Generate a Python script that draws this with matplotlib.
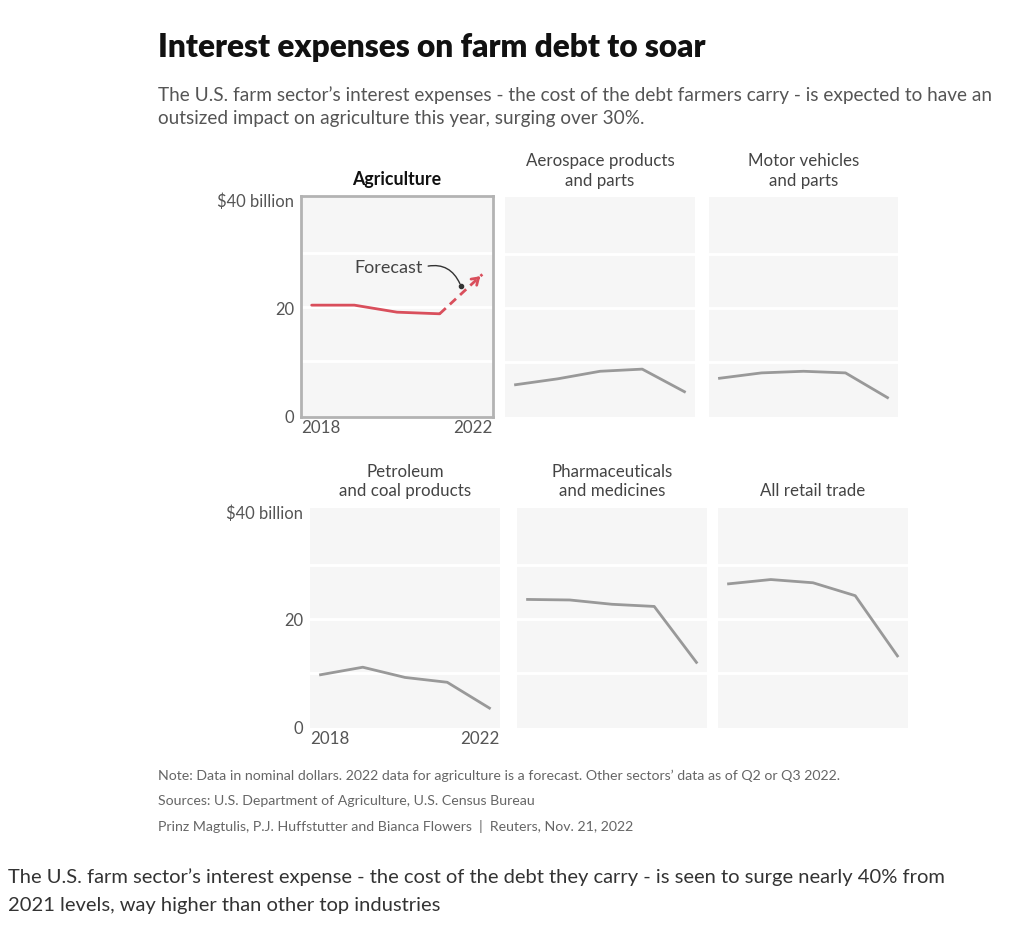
import numpy as np
import matplotlib
matplotlib.use("Agg")
import matplotlib.pyplot as plt

plt.rcParams['font.family'] = ['Lato', 'DejaVu Sans']

# data (billions of dollars)
years = [2018, 2019, 2020, 2021, 2022]
agriculture = [20.4, 20.4, 19.1, 18.8, 26.1]
aerospace = [5.7, 6.8, 8.2, 8.6, 4.4]
motor_vehicles = [6.9, 7.9, 8.2, 7.9, 3.3]
petroleum = [9.6, 11.0, 9.1, 8.2, 3.4]
pharma = [23.6, 23.5, 22.7, 22.3, 11.9]
retail = [26.5, 27.3, 26.7, 24.3, 13.1]

panel_titles = ["Agriculture", "Aerospace products\nand parts", "Motor vehicles\nand parts",
                "Petroleum\nand coal products", "Pharmaceuticals\nand medicines", "All retail trade"]
y_ticks = [0, 20, 40]
y_tick_labels = ["0", "20", "$40 billion"]

RED = "#d94f5c"
GREY_LINE = "#999999"
BG = "#f6f6f6"
TXT = "#555555"

W, H = 1024, 928
fig = plt.figure(figsize=(W / 100, H / 100), dpi=100)
fig.patch.set_facecolor("white")


def box(x0, x1, y0, y1):
    # pixel box -> figure fraction rect
    return [x0 / W, 1 - y1 / H, (x1 - x0) / W, (y1 - y0) / H]


rects = [box(301, 493, 197, 418), box(505, 695, 198, 418), box(709, 898, 198, 418),
         box(310, 500, 509, 729), box(517, 707, 509, 729), box(718, 908, 509, 729)]
series = [agriculture, aerospace, motor_vehicles, petroleum, pharma, retail]

axes = []
for i, (rect, vals, ttl) in enumerate(zip(rects, series, panel_titles)):
    ax = fig.add_axes(rect)
    ax.set_facecolor(BG)
    ax.set_xlim(2017.75, 2022.25)
    ax.set_ylim(-0.3, 40.6)
    for g in [10, 20, 30]:
        ax.axhline(g, color="white", lw=2, zorder=1)
    for s in ax.spines.values():
        s.set_visible(False)
    ax.set_xticks([])
    ax.tick_params(axis="y", length=0, pad=5, labelsize=11.9, labelcolor=TXT)
    if i in (0, 3):
        ax.set_yticks(y_ticks)
        ax.set_yticklabels(y_tick_labels)
        ax.text(0, -0.01, "2018", transform=ax.transAxes, ha="left", va="top",
                fontsize=12.2, color=TXT)
        ax.text(1, -0.01, "2022", transform=ax.transAxes, ha="right", va="top",
                fontsize=12.2, color=TXT)
    else:
        ax.set_yticks([])
    if i == 0:
        ax.set_title(ttl, fontsize=12.8, fontweight="bold", color="#111111", pad=9)
        for s in ax.spines.values():
            s.set_visible(True)
            s.set_color("#b3b3b3")
            s.set_linewidth(2)
        ax.plot(years[:4], vals[:4], color=RED, lw=2, solid_capstyle="round", zorder=3)
        ax.plot(years[3:], vals[3:], color=RED, lw=2, ls=(0, (3, 2)), zorder=3)
        ax.annotate("", xy=(years[4], vals[4]),
                    xytext=(years[4] - 0.15, vals[4] - 0.15 * (vals[4] - vals[3])),
                    arrowprops=dict(arrowstyle="->,head_length=0.45,head_width=0.3",
                                    color=RED, lw=2), zorder=4)
        ax.plot([2021.5], [23.9], "o", color="#333333", ms=3, zorder=5)
        ax.annotate("Forecast", xy=(2021.5, 23.9), xytext=(2019.8, 27.4),
                    ha="center", va="center", fontsize=13, color="#444444",
                    arrowprops=dict(arrowstyle="-", color="#333333", lw=1,
                                    connectionstyle="arc3,rad=-0.45",
                                    relpos=(1, 0.5), shrinkA=2, shrinkB=2))
    else:
        ax.set_title(ttl, fontsize=12.2, color="#444444", pad=9, linespacing=1.25)
        ax.plot(years, vals, color=GREY_LINE, lw=2, zorder=3)
    axes.append(ax)

fig.text(158 / W, 1 - 47 / H, "Interest expenses on farm debt to soar", fontsize=22.8,
         fontweight="heavy", color="#111111", va="center", ha="left")
fig.text(158 / W, 1 - 106.5 / H,
         "The U.S. farm sector\u2019s interest expenses - the cost of the debt farmers carry - is expected to have an\n"
         "outsized impact on agriculture this year, surging over 30%.",
         fontsize=13.7, color="#555555", va="center", ha="left", linespacing=1.45)

notes = ["Note: Data in nominal dollars. 2022 data for agriculture is a forecast. Other sectors\u2019 data as of Q2 or Q3 2022.",
         "Sources: U.S. Department of Agriculture, U.S. Census Bureau",
         "Prinz Magtulis, P.J. Huffstutter and Bianca Flowers  |  Reuters, Nov. 21, 2022"]
for k, line in enumerate(notes):
    fig.text(158 / W, 1 - (776 + 25.5 * k) / H, line, fontsize=10.2, color="#666666",
             va="center", ha="left")

fig.text(8 / W, 1 - 891 / H,
         "The U.S. farm sector\u2019s interest expense - the cost of the debt they carry - is seen to surge nearly 40% from\n"
         "2021 levels, way higher than other top industries",
         fontsize=14.5, color="#333333", va="center", ha="left", linespacing=1.8)

fig.savefig("out.png", dpi=100)
